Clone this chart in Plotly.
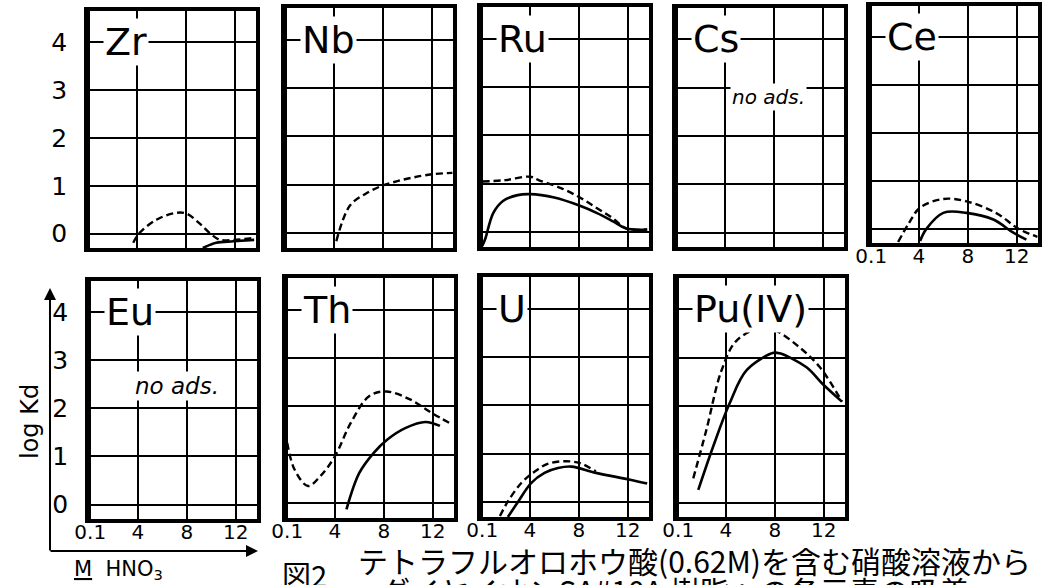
import plotly.graph_objects as go

# --- data: log Kd vs. HNO3 concentration (M) -------------------------------
elements = ["Zr", "Nb", "Ru", "Cs", "Ce", "Eu", "Th", "U", "Pu(IV)"]

zr_dash_x = [3.7, 4.2, 5.6, 7.1, 8.05, 9.1, 10.1, 10.8, 11.9, 13.6]
zr_dash_y = [-0.19, 0.01, 0.29, 0.43, 0.42, 0.22, -0.02, -0.13, -0.13, -0.09]
zr_solid_x = [9.4, 10.5, 11.9, 13.6]
zr_solid_y = [-0.30, -0.19, -0.16, -0.13]

nb_dash_x = [4.2, 5.3, 6.6, 7.9, 9.2, 10.4, 12.0, 13.7]
nb_dash_y = [-0.16, 0.57, 0.82, 0.98, 1.08, 1.15, 1.22, 1.25]

ru_dash_x = [0.1, 2.0, 4.0, 4.8, 6.5, 8.1, 9.5, 10.8, 11.9, 13.6]
ru_dash_y = [1.05, 1.08, 1.15, 1.07, 0.92, 0.72, 0.50, 0.29, 0.08, 0.06]
ru_solid_x = [0.1, 0.35, 1.0, 1.8, 3.0, 4.0, 6.0, 8.1, 9.5, 10.8, 11.9, 13.6]
ru_solid_y = [-0.28, -0.13, 0.40, 0.65, 0.77, 0.79, 0.72, 0.55, 0.40, 0.23, 0.08, 0.06]

ce_dash_x = [2.3, 3.2, 4.1, 6.0, 7.9, 10.3, 12.2, 13.7]
ce_dash_y = [-0.28, 0.12, 0.44, 0.62, 0.57, 0.33, -0.01, -0.17]
ce_solid_x = [4.1, 4.6, 6.0, 7.9, 10.1, 11.7, 12.8]
ce_solid_y = [-0.26, -0.01, 0.33, 0.33, 0.19, -0.08, -0.23]

th_dash_x = [0.1, 0.7, 1.8, 2.8, 4.0, 5.3, 6.8, 8.2, 10.2, 11.9, 13.6]
th_dash_y = [1.25, 0.70, 0.36, 0.56, 0.97, 1.66, 2.21, 2.31, 2.14, 1.87, 1.63]
th_solid_x = [4.95, 6.0, 7.2, 8.3, 9.8, 11.4, 12.6]
th_solid_y = [-0.12, 0.63, 1.05, 1.32, 1.56, 1.68, 1.60]

u_dash_x = [1.55, 2.2, 3.3, 4.4, 5.5, 6.9, 8.1, 9.4]
u_dash_y = [-0.28, 0.02, 0.40, 0.64, 0.80, 0.85, 0.81, 0.64]
u_solid_x = [2.2, 3.05, 4.1, 5.2, 6.3, 7.4, 9.4, 12.2, 13.6]
u_solid_y = [-0.30, 0.02, 0.40, 0.61, 0.71, 0.74, 0.61, 0.47, 0.39]

pu_dash_x = [1.33, 2.4, 3.65, 4.9, 7.05, 8.1, 10.0, 11.7, 13.5]
pu_dash_y = [0.50, 1.50, 2.74, 3.36, 3.63, 3.56, 3.22, 2.80, 2.09]
pu_solid_x = [1.74, 2.96, 4.3, 5.7, 7.9, 8.4, 10.6, 11.9, 13.5]
pu_solid_y = [0.26, 1.16, 2.05, 2.74, 3.10, 3.09, 2.80, 2.46, 2.09]

x_ticks = [0.1, 4, 8, 12]
x_tick_text = ["0.1", "4", "8", "12"]
y_ticks = [0, 1, 2, 3, 4]

curves = {
    "Zr": [(zr_dash_x, zr_dash_y, "dash"), (zr_solid_x, zr_solid_y, "solid")],
    "Nb": [(nb_dash_x, nb_dash_y, "dash")],
    "Ru": [(ru_dash_x, ru_dash_y, "dash"), (ru_solid_x, ru_solid_y, "solid")],
    "Cs": [],
    "Ce": [(ce_dash_x, ce_dash_y, "dash"), (ce_solid_x, ce_solid_y, "solid")],
    "Eu": [],
    "Th": [(th_dash_x, th_dash_y, "dash"), (th_solid_x, th_solid_y, "solid")],
    "U": [(u_dash_x, u_dash_y, "dash"), (u_solid_x, u_solid_y, "solid")],
    "Pu(IV)": [(pu_dash_x, pu_dash_y, "dash"), (pu_solid_x, pu_solid_y, "solid")],
}

# --- page geometry (pixels) -------------------------------------------------
W, H = 1052, 585
PANEL_W = 168
# element: (left, top, bottom, show x labels, show y labels)
frames = {
    "Zr": (88, 11, 248, False, True),
    "Nb": (285, 8, 248, False, False),
    "Ru": (481, 7, 247, False, False),
    "Cs": (676, 8, 247, False, False),
    "Ce": (870, 6, 243, True, False),
    "Eu": (89, 281, 519, True, True),
    "Th": (286, 278, 518, True, False),
    "U": (481, 277, 517, True, False),
    "Pu(IV)": (677, 278, 517, True, False),
}

X_RANGE = [0, 13.75]
Y_RANGE = [-0.3, 4.65]
LABEL_FONT = "DejaVu Sans, sans-serif"
TICK_FONT = dict(family="DejaVu Sans, sans-serif", size=25, color="black")


def px(xp):
    return xp / W


def py(yp):
    return 1 - yp / H


fig = go.Figure()
layout = dict(
    width=W, height=H,
    margin=dict(l=0, r=0, t=0, b=0, autoexpand=False),
    paper_bgcolor="white", plot_bgcolor="white",
    showlegend=False,
)
annotations = []

for i, el in enumerate(elements, start=1):
    left, top, bottom, show_x, show_y = frames[el]
    xa = "xaxis" if i == 1 else f"xaxis{i}"
    ya = "yaxis" if i == 1 else f"yaxis{i}"
    xr = "x" if i == 1 else f"x{i}"
    yr = "y" if i == 1 else f"y{i}"

    layout[xa] = dict(
        domain=[px(left), px(left + PANEL_W)], anchor=yr, range=X_RANGE,
        tickvals=x_ticks, ticktext=x_tick_text, showticklabels=show_x,
        tickfont=dict(family=TICK_FONT["family"], size=20, color="black"),
        ticks="", ticklabelstandoff=-8, automargin=False,
        showgrid=True, gridcolor="black", gridwidth=1.8, zeroline=False,
        showline=True, linecolor="black", linewidth=3.5, mirror=True,
        fixedrange=True,
    )
    layout[ya] = dict(
        domain=[py(bottom), py(top)], anchor=xr, range=Y_RANGE,
        tickvals=y_ticks, showticklabels=show_y, tickfont=TICK_FONT,
        ticks="", ticklabelstandoff=12, automargin=False,
        showgrid=True, gridcolor="black", gridwidth=1.8, zeroline=False,
        showline=True, linecolor="black", linewidth=3.5, mirror=True,
        fixedrange=True,
    )

    for xs, ys, style in curves[el]:
        fig.add_trace(go.Scatter(
            x=xs, y=ys, mode="lines", xaxis=xr, yaxis=yr,
            line=dict(color="black", width=2.6 if style == "solid" else 2.4,
                      dash="solid" if style == "solid" else "7px,4px",
                      shape="spline", smoothing=1.0),
            hoverinfo="skip",
        ))

    # element name sitting on the log Kd = 4 line
    annotations.append(dict(
        x=1.2, y=4, xref=xr, yref=yr, xanchor="left", yanchor="middle",
        text=el, showarrow=False, bgcolor="white", borderpad=1,
        font=dict(family=LABEL_FONT, size=38, color="black"),
    ))

# "no ads." notes
annotations.append(dict(x=7.6, y=2.8, xref="x4", yref="y4", text="<i>no ads.</i>",
                        showarrow=False, bgcolor="white",
                        xanchor="center", yanchor="middle",
                        font=dict(family="DejaVu Sans, sans-serif", size=20, color="black")))
annotations.append(dict(x=7.2, y=2.47, xref="x6", yref="y6", text="<i>no ads.</i>",
                        showarrow=False, bgcolor="white",
                        xanchor="center", yanchor="middle",
                        font=dict(family="DejaVu Sans, sans-serif", size=23, color="black")))

# axis arrows for the lower-left panel
annotations.append(dict(x=px(50), y=py(288), xref="paper", yref="paper",
                        ax=0, ay=264, axref="pixel", ayref="pixel", text="",
                        showarrow=True, arrowhead=2, arrowsize=1.2, arrowwidth=2,
                        arrowcolor="black"))
annotations.append(dict(x=px(258), y=py(551), xref="paper", yref="paper",
                        ax=-209, ay=0, axref="pixel", ayref="pixel", text="",
                        showarrow=True, arrowhead=2, arrowsize=1.2, arrowwidth=2,
                        arrowcolor="black"))

annotations.append(dict(x=px(30), y=py(422), xref="paper", yref="paper",
                        xanchor="center", yanchor="middle",
                        text="log Kd", textangle=-90, showarrow=False,
                        font=dict(family="DejaVu Sans, sans-serif", size=24, color="black")))
annotations.append(dict(x=px(72), y=py(570), xref="paper", yref="paper",
                        xanchor="left", yanchor="middle",
                        text="<u>M</u>  HNO<sub>3</sub>", showarrow=False,
                        font=dict(family="DejaVu Sans, sans-serif", size=21, color="black")))

# caption
CJK = "Noto Sans CJK JP, sans-serif"
annotations.append(dict(x=px(280), y=py(551), xref="paper", yref="paper",
                        xanchor="left", yanchor="top", text="図2", showarrow=False,
                        font=dict(family=CJK, size=29, color="black")))
annotations.append(dict(x=px(356), y=py(560), xref="paper", yref="paper",
                        xanchor="left", yanchor="middle",
                        text="テトラフルオロホウ酸(0.62M)を含む硝酸溶液から",
                        showarrow=False, font=dict(family=CJK, size=30, color="black")))
annotations.append(dict(x=px(378), y=py(566), xref="paper", yref="paper",
                        xanchor="left", yanchor="top",
                        text="ダイヤイオンSA#10A 樹脂への各元素の吸着",
                        showarrow=False, font=dict(family=CJK, size=30, color="black")))

layout["annotations"] = annotations
fig.update_layout(**layout)
fig.write_html("out.html")
